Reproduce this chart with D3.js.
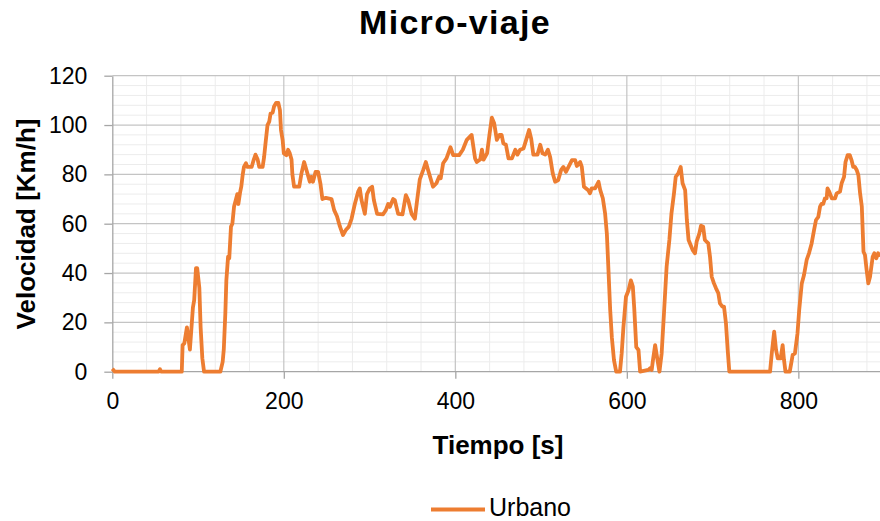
<!DOCTYPE html>
<html>
<head>
<meta charset="utf-8">
<script src="https://cdn.jsdelivr.net/npm/d3@7"></script>
<style>
  html, body { margin: 0; padding: 0; background: #fff; }
  svg { display: block; font-family: "Liberation Sans", Arial, sans-serif; }
</style>
</head>
<body>
<svg id="chart" width="880" height="521"></svg>
<script>
// Time [s] and speed [km/h]
const tiempo = [
  0, 3, 54, 55.6, 57, 81, 82, 84, 87, 90.5, 94, 95.5, 97.6, 99, 101.5, 103, 105, 107,
  126, 128.7, 130, 131.8, 133, 135, 136.4, 138.4, 140, 142, 144, 145.8, 147, 149, 150.4,
  152, 153.5, 155.9, 157.4, 162.5, 165, 167, 169.5, 171.4, 175.3, 177, 178.8, 181, 183,
  184.6, 187, 188.5, 191, 193.6, 195.5, 196.7, 198.6, 200, 203, 205, 207, 209, 210, 212,
  218, 220.6, 223.7, 226.4, 230.3, 232, 234, 237, 240, 242.8, 245, 249, 255.6, 258.7,
  262, 265.3, 269, 272.3, 275.8, 279, 282.8, 286.7, 288.6, 290.6, 294.5, 297, 300.3, 303,
  305, 308.8, 315.8, 319, 321.7, 323.6, 327.5, 329.4, 333.3, 338.4, 342.3, 345, 349,
  352.8, 355.5, 358.6, 362.5, 365.6, 368.3, 374, 378, 381, 383, 385.8, 389.7, 394.4,
  397.5, 404.5, 408.7, 413.4, 419, 423, 425, 429, 431, 433, 437, 440, 442.6, 445.3,
  448.4, 451.5, 454, 456, 459, 462, 466, 470, 472.5, 475.6, 479.5, 482.6, 486, 488.4,
  491, 495.8, 499, 501.7, 504.8, 508, 510.6, 513.6, 516.4, 520, 523.4, 526, 529, 532,
  536, 539.7, 541.7, 545.6, 547.5, 550, 555, 557, 559, 563, 567, 569, 572, 574.7, 576.7,
  578.6, 580.6, 582.5, 585, 587.6, 592, 594, 596, 599, 602, 604.7, 607, 608.6, 611,
  613.6, 615.5, 625, 627, 629, 630.5, 633, 635.8, 638, 640.6, 643.3, 646.4, 649.6, 652,
  655, 657, 660, 662.8, 665, 668, 670, 672, 674.4, 676.8, 679.5, 681.4, 684.5, 686.5,
  689, 691, 695, 697, 699, 701.6, 704, 706.7, 708.6, 711.4, 713.3, 715.6, 717.6, 719.5,
  767, 769, 771.8, 774, 776, 779.4, 781.7, 783.3, 785, 790, 793.4, 796, 799, 801, 804,
  806.6, 809.7, 812.4, 815.5, 818.3, 820.6, 823.3, 825.3, 827, 829, 831, 833, 834, 836,
  839, 842.8, 844.7, 848.6, 850.5, 853.3, 855, 857.5, 860, 862, 864, 866, 868, 870, 872,
  874, 876, 877.7, 879.7, 881.6, 883.6, 886.7, 888.6, 891, 893, 895
];
const velocidad = [
  1.2, 0, 0, 1, 0, 0, 10.8, 11.5, 18, 9, 26, 29, 42, 42, 34, 18, 5.4, 0,
  0, 4, 9, 23.6, 37, 46.6, 46, 58.8, 60, 67, 69.6, 72, 68, 72.7, 75,
  79.7, 83, 84.5, 83, 83, 86, 88, 86, 83, 83, 87, 93, 100, 101.4,
  104.7, 105, 107.4, 109, 109, 106, 98, 94, 88.5, 87.8, 90, 88.5, 86, 80, 75,
  75, 80.4, 85, 81.8, 77, 79, 77, 81, 81, 76, 70, 70.5, 70, 65.5,
  63, 59, 55.4, 57.4, 58.8, 62, 68, 73, 74.3, 69.6, 64, 72, 74.3, 75,
  69.6, 64, 63.8, 65.5, 68, 66.8, 70, 69.6, 64, 63.8, 71.6, 69.6, 64,
  62, 69.6, 78, 81.7, 85, 81.7, 75, 76.4, 79, 78.4, 84.5, 86.5, 91,
  87.8, 87.8, 90, 94, 96, 86.5, 85, 86, 90, 86, 88.5, 96.6, 103, 100.7,
  94, 96, 96, 92.6, 92, 86.5, 86.5, 90, 88, 90, 90.5, 94, 98, 94.6,
  88, 88, 92, 88.5, 88, 90, 87, 80.4, 77, 77.7, 81.8, 83, 81, 83,
  85.8, 85.8, 83.4, 85, 83, 75, 73.6, 72.3, 74.3, 74.3, 77, 73.6, 70.3, 64, 56,
  41, 25, 14, 4.7, 0, 0, 7.4, 18, 30.4, 33, 37, 34.5, 26, 10,
  8.8, 0, 0.7, 1.4, 0.7, 4.7, 10.8, 4.7, 0, 7.4, 23.6, 42.6, 53.4, 64,
  72.3, 79, 80.4, 83, 76.4, 73.6, 61.5, 53.4, 51.4, 49.3, 48, 52.7, 56, 59.2,
  58.8, 53.4, 52, 46.6, 38.5, 35.8, 33.8, 31.8, 27.7, 26.4, 26.4, 19.6, 8.8, 0,
  0, 7.4, 16.2, 8.8, 5.4, 5.4, 10.8, 4.7, 0, 0, 6.8, 7.4, 15.5, 25, 35.8,
  39.2, 45.3, 48, 52, 57.4, 61.5, 62.8, 66.9, 68, 68, 70.3, 70.3, 74.3, 73,
  70.3, 70.3, 72.3, 73, 76.4, 79, 85, 87.8, 87.8, 85.8, 83, 83, 81.8, 79.7, 72.3,
  67, 48.6, 47.3, 41, 35.8, 38.5, 46.6, 48, 46, 48, 46.6
];
const xTicks = [0, 200, 400, 600, 800];
const yTicks = [0, 20, 40, 60, 80, 100, 120];
const serieNombre = 'Urbano';

const data = tiempo.map((t, i) => ({ t, v: velocidad[i] }));

const svg = d3.select('#chart');
const color = '#ED7D31';

// Scales (plot is cut at the right border of the picture)
const x = d3.scaleLinear().domain([0, 900]).range([112.3, 884.1]);
const y = d3.scaleLinear().domain([0, 120]).range([371.7, 75.7]);

const g = svg.append('g');

// Minor grid lines
g.append('g')
  .selectAll('line')
  .data(d3.range(4, 120, 4).filter((d) => d % 20 !== 0))
  .enter()
  .append('line')
  .attr('x1', x(0)).attr('x2', 880)
  .attr('y1', (d) => y(d)).attr('y2', (d) => y(d))
  .attr('stroke', '#ececec').attr('stroke-width', 1);

g.append('g')
  .selectAll('line')
  .data(d3.range(40, 900, 40).filter((d) => d % 200 !== 0))
  .enter()
  .append('line')
  .attr('x1', (d) => x(d)).attr('x2', (d) => x(d))
  .attr('y1', y(120)).attr('y2', y(0))
  .attr('stroke', '#ececec').attr('stroke-width', 1);

// Major grid lines
g.append('g')
  .selectAll('line')
  .data(yTicks.filter((d) => d > 0))
  .enter()
  .append('line')
  .attr('x1', x(0)).attr('x2', 880)
  .attr('y1', (d) => y(d)).attr('y2', (d) => y(d))
  .attr('stroke', '#c4c4c4').attr('stroke-width', 1.2);

g.append('g')
  .selectAll('line')
  .data(xTicks.filter((d) => d > 0))
  .enter()
  .append('line')
  .attr('x1', (d) => x(d)).attr('x2', (d) => x(d))
  .attr('y1', y(120)).attr('y2', y(0))
  .attr('stroke', '#c4c4c4').attr('stroke-width', 1.2);

// Axes
const xAxis = g.append('g')
  .attr('transform', `translate(0,${y(0)})`)
  .call(d3.axisBottom(x).tickValues(xTicks).tickSize(7).tickPadding(14).tickSizeOuter(0));

const yAxis = g.append('g')
  .attr('transform', `translate(${x(0)},0)`)
  .call(d3.axisLeft(y).tickValues(yTicks).tickSize(8).tickPadding(17).tickSizeOuter(0));

[xAxis, yAxis].forEach((a) => {
  a.select('.domain').attr('stroke', '#a6a6a6').attr('stroke-width', 1.3);
  a.selectAll('.tick line').attr('stroke', '#a6a6a6').attr('stroke-width', 1.3);
  a.selectAll('.tick text')
    .attr('fill', '#000')
    .style('font-family', '"Liberation Sans", Arial, sans-serif')
    .style('font-size', '23px');
});
xAxis.select('.domain').attr('d', `M${x(0)},0H880`);

// Speed line
const line = d3.line()
  .x((d) => x(d.t))
  .y((d) => y(d.v));

g.append('path')
  .datum(data)
  .attr('fill', 'none')
  .attr('stroke', color)
  .attr('stroke-width', 3.8)
  .attr('stroke-linejoin', 'round')
  .attr('d', line);

// Title and axis titles
svg.append('text')
  .attr('x', 455).attr('y', 34)
  .attr('text-anchor', 'middle')
  .style('font-size', '34px').style('font-weight', 'bold')
  .style('letter-spacing', '1.3px')
  .text('Micro-viaje');

svg.append('text')
  .attr('x', 498).attr('y', 454)
  .attr('text-anchor', 'middle')
  .style('font-size', '26px').style('font-weight', 'bold')
  .text('Tiempo [s]');

svg.append('text')
  .attr('transform', 'translate(35,224) rotate(-90)')
  .attr('text-anchor', 'middle')
  .style('font-size', '26px').style('font-weight', 'bold')
  .text('Velocidad [Km/h]');

// Legend
svg.append('line')
  .attr('x1', 431).attr('x2', 485)
  .attr('y1', 509.5).attr('y2', 509.5)
  .attr('stroke', color).attr('stroke-width', 4);

svg.append('text')
  .attr('x', 489).attr('y', 516)
  .style('font-size', '25px')
  .text(serieNombre);
</script>
</body>
</html>
